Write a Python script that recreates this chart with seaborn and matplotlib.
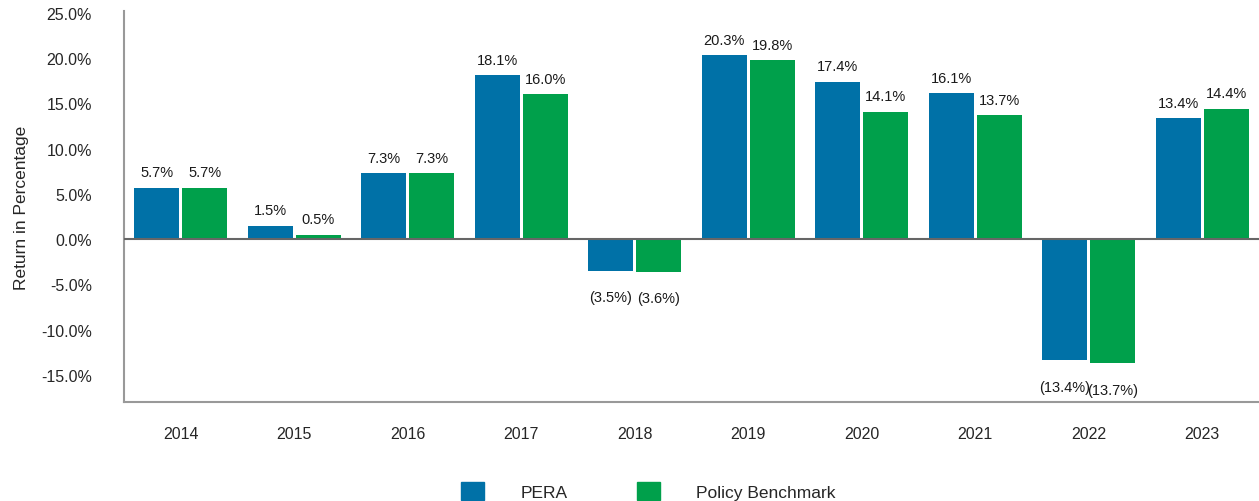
import pandas as pd
import matplotlib.pyplot as plt
import seaborn as sns
from matplotlib.patches import Patch

years = ['2014', '2015', '2016', '2017', '2018', '2019', '2020', '2021', '2022', '2023']
pera = [5.7, 1.5, 7.3, 18.1, -3.5, 20.3, 17.4, 16.1, -13.4, 13.4]
benchmark = [5.7, 0.5, 7.3, 16.0, -3.6, 19.8, 14.1, 13.7, -13.7, 14.4]
series_names = ['PERA', 'Policy Benchmark']
colors = ['#0071A7', '#00A04B']

df = pd.DataFrame({'year': years * 2,
                   'value': pera + benchmark,
                   'series': [series_names[0]] * len(years) + [series_names[1]] * len(years)})

sns.set_style('white')
plt.rcParams['font.family'] = ['Liberation Sans Narrow', 'Liberation Sans', 'DejaVu Sans']

fig = plt.figure(figsize=(12.59, 5.02), dpi=100)
ax = fig.add_axes([0.0985, 0.197, 0.9015, 0.779])

sns.barplot(data=df, x='year', y='value', hue='series', palette=colors,
            width=0.84, gap=0.055, ax=ax, legend=False, saturation=1, linewidth=0)

for cont in ax.containers:
    vals = cont.datavalues
    pos = [f'{v:.1f}%' if v >= 0 else '' for v in vals]
    neg = [f'({abs(v):.1f}%)' if v < 0 else '' for v in vals]
    ax.bar_label(cont, labels=pos, padding=6, fontsize=10.5, color='#1a1a1a')
    ax.bar_label(cont, labels=neg, padding=14, fontsize=10.5, color='#1a1a1a')

ax.set_xlim(-0.5, 9.5)
ax.set_ylim(-18.0, 25.2)
ax.set_yticks([-15, -10, -5, 0, 5, 10, 15, 20, 25])
ax.set_yticklabels([f'{t:.1f}%' for t in [-15, -10, -5, 0, 5, 10, 15, 20, 25]], fontsize=11.5)
ax.tick_params(axis='x', labelsize=11.5, pad=17)
ax.tick_params(axis='y', pad=23)
ax.tick_params(length=0)
ax.set_xlabel('')
ax.set_ylabel('Return in Percentage', fontsize=12.5, labelpad=9)
ax.axhline(0, color='#666666', lw=1.5, zorder=3)

for side in ['top', 'right']:
    ax.spines[side].set_visible(False)
for side in ['left', 'bottom']:
    ax.spines[side].set_color('#999999')
    ax.spines[side].set_linewidth(1.5)

handles = [Patch(color=c) for c in colors]
fig.legend(handles, series_names, loc='lower center', bbox_to_anchor=(0.515, -0.03),
           ncol=2, frameon=False, fontsize=12.5, handlelength=1.33, handleheight=1.3,
           handletextpad=2.1, columnspacing=4.0)

fig.savefig('out.png', dpi=100)
